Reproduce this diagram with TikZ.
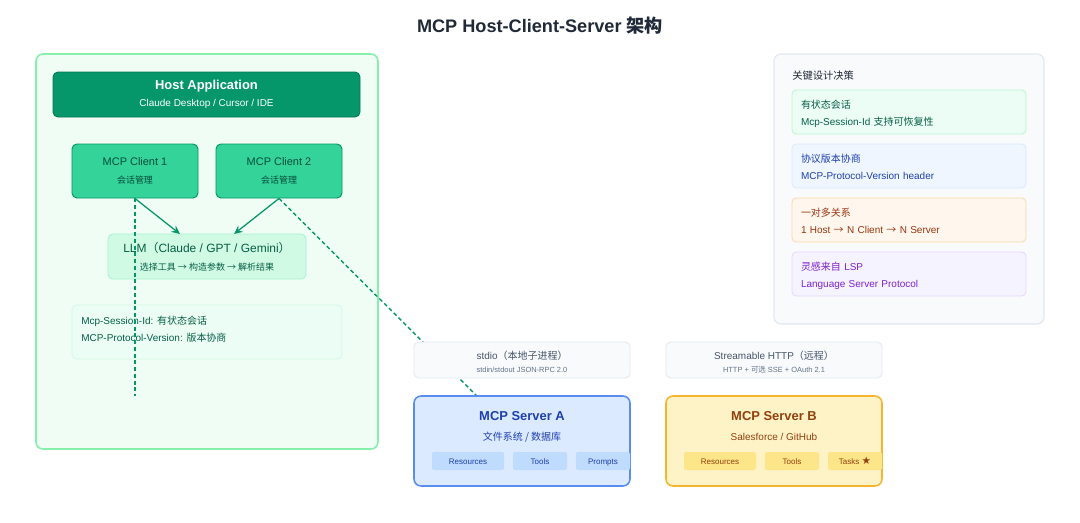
\documentclass[tikz,border=0pt]{standalone}
\usepackage{fontspec}
\setmainfont{Liberation Sans}
\newfontfamily\cjk{Noto Sans CJK SC}
\newfontfamily\symfont{DejaVu Sans}
\usepackage{tikz}
\usetikzlibrary{arrows.meta}
\usepackage{xcolor}

\definecolor{titlegray}{HTML}{1F2937}
\definecolor{hostbg}{HTML}{F0FDF4}
\definecolor{hostline}{HTML}{86EFAC}
\definecolor{appgreen}{HTML}{059669}
\definecolor{appline}{HTML}{047857}
\definecolor{clientfill}{HTML}{34D399}
\definecolor{deepgreen}{HTML}{064E3B}
\definecolor{llmfill}{HTML}{D1FAE5}
\definecolor{llmline}{HTML}{A7F3D0}
\definecolor{textgreen}{HTML}{065F46}
\definecolor{sessfill}{HTML}{ECFDF5}
\definecolor{sessline}{HTML}{D1FAE5}
\definecolor{slatefill}{HTML}{F8FAFC}
\definecolor{slateline}{HTML}{E2E8F0}
\definecolor{slatetext}{HTML}{475569}
\definecolor{slatesub}{HTML}{64748B}
\definecolor{blueFill}{HTML}{DBEAFE}
\definecolor{blueLine}{HTML}{5B8DEF}
\definecolor{bluePill}{HTML}{BFDBFE}
\definecolor{blueText}{HTML}{1E40AF}
\definecolor{amberFill}{HTML}{FEF3C7}
\definecolor{amberLine}{HTML}{F5B52E}
\definecolor{amberPill}{HTML}{FDE68A}
\definecolor{amberText}{HTML}{92400E}
\definecolor{cardGreen}{HTML}{ECFDF5}
\definecolor{cardGreenLine}{HTML}{BBF7D0}
\definecolor{cardBlue}{HTML}{EFF6FF}
\definecolor{cardBlueLine}{HTML}{DBEAFE}
\definecolor{cardOrange}{HTML}{FFF7ED}
\definecolor{cardOrangeLine}{HTML}{FED7AA}
\definecolor{cardOrangeText}{HTML}{9A3412}
\definecolor{cardPurple}{HTML}{F5F3FF}
\definecolor{cardPurpleLine}{HTML}{E9D5FF}
\definecolor{cardPurpleText}{HTML}{7E22CE}

\begin{document}
\begin{tikzpicture}[x=0.025cm, y=-0.025cm]

    % --- Global Settings ---
    \tikzset{
        box/.style 2 args={minimum width=#1*0.025cm, minimum height=#2*0.025cm,
            rounded corners=3.5pt, inner sep=0pt, align=center},
        clientbox/.style={box={126}{54}, fill=clientfill, draw=appgreen, line width=0.7pt,
            text=deepgreen, font=\fontsize{7.8pt}{11pt}\selectfont},
        transbox/.style={box={216}{36}, fill=slatefill, draw=slateline, line width=0.6pt},
        translabel/.style={text=slatetext, inner sep=0pt, font=\fontsize{7.1pt}{9pt}\selectfont},
        transsub/.style={text=slatesub, inner sep=0pt, font=\fontsize{5.3pt}{7pt}\selectfont},
        pill/.style={minimum height=18*0.025cm, inner sep=0pt, rounded corners=1.5pt,
            text height=5.8pt, text depth=0.4pt, font=\fontsize{5.7pt}{7pt}\selectfont},
        card/.style={minimum width=234*0.025cm, minimum height=44*0.025cm, text width=216*0.025cm,
            inner xsep=9*0.025cm, inner ysep=0pt, rounded corners=3pt, align=left, line width=0.6pt,
            text depth=10.8pt, font=\fontsize{7.1pt}{12pt}\selectfont},
        flowarrow/.style={-{Stealth[length=6pt, width=5.5pt]}, line width=0.9pt, appgreen},
        flowdash/.style={line width=1pt, appgreen, dash pattern=on 2.8pt off 2pt}
    }

    % --- Canvas ---
    \fill[white] (0,0) rectangle (1080,522);
    \useasboundingbox (0,0) rectangle (1080,522);

    \node[font=\fontsize{12.9pt}{15pt}\selectfont\bfseries, text=titlegray] (title) at (540,26)
        {MCP Host-Client-Server {\cjk 架构}};

    % --- Host side ---
    \node[box={342}{395}, fill=hostbg, draw=hostline, line width=1.1pt, rounded corners=5pt] (host) at (207,251.5) {};

    \node[box={307}{45}, fill=appgreen, draw=appline, line width=0.6pt, text=white] (hostapp) at (206.5,94.5)
        {{\fontsize{9.2pt}{11pt}\selectfont\bfseries Host Application}\\[0.5pt]
         {\fontsize{7.1pt}{9pt}\selectfont Claude Desktop / Cursor / IDE}};

    \node[clientbox] (client1) at (135,171)
        {MCP Client 1\\[2pt] {\fontsize{6.4pt}{8pt}\selectfont\cjk 会话管理}};
    \node[clientbox] (client2) at (279,171)
        {MCP Client 2\\[2pt] {\fontsize{6.4pt}{8pt}\selectfont\cjk 会话管理}};

    \node[box={198}{45}, fill=llmfill, draw=llmline, line width=0.6pt, text=textgreen] (llm) at (207,256.5)
        {{\fontsize{8.5pt}{10pt}\selectfont LLM{\cjk （}Claude / GPT / Gemini{\cjk ）}}\\[1pt]
         {\fontsize{6.4pt}{8pt}\selectfont\cjk 选择工具 → 构造参数 → 解析结果}};

    \node[box={270}{54}, fill=sessfill, draw=sessline, line width=0.6pt] (sessbox) at (207,332) {};
    \node[anchor=north west, align=left, inner sep=0pt, text=textgreen,
        font=\fontsize{7.1pt}{12pt}\selectfont] (sesstext) at (81,316)
        {Mcp-Session-Id: {\cjk 有状态会话}\\
         MCP-Protocol-Version: {\cjk 版本协商}};

    \coordinate (llmin1) at (180,234);
    \coordinate (llmin2) at (234,234);
    \coordinate (dashend) at (135,396);
    \coordinate (srvAin) at (477,396);

    \draw[flowarrow] (client1.south) -- (llmin1);
    \draw[flowarrow] (client2.south) -- (llmin2);

    % dashed link to server A runs under the stdio box
    \draw[flowdash] (client2.south) -- (srvAin);

    % --- Transports ---
    \node[transbox] (stdio) at (522,360) {};
    \node[translabel] (stdiotitle) at (522,356) {stdio{\cjk （本地子进程）}};
    \node[transsub] (stdiosub) at (522,370) {stdin/stdout JSON-RPC 2.0};
    \node[transbox] (http) at (774,360) {};
    \node[translabel] (httptitle) at (774,356) {Streamable HTTP{\cjk （远程）}};
    \node[transsub] (httpsub) at (774,370) {HTTP + {\cjk 可选} SSE + OAuth 2.1};

    % --- Server A ---
    \node[box={216}{90}, fill=blueFill, draw=blueLine, line width=1.1pt, rounded corners=5pt] (srvA) at (522,441) {};
    \node[text=blueText, font=\fontsize{9.2pt}{11pt}\selectfont\bfseries] (srvAtitle) at (522,416) {MCP Server A};
    \node[text=blueText, font=\fontsize{7.1pt}{9pt}\selectfont\cjk] (srvAsub) at (522,437) {文件系统 / 数据库};
    \node[pill, fill=bluePill, text=blueText, minimum width=72*0.025cm] (resA) at (468,461) {Resources};
    \node[pill, fill=bluePill, text=blueText, minimum width=54*0.025cm] (toolA) at (540,461) {Tools};
    \node[pill, fill=bluePill, text=blueText, minimum width=54*0.025cm] (promptA) at (603,461) {Prompts};

    % --- Server B ---
    \node[box={216}{90}, fill=amberFill, draw=amberLine, line width=1.1pt, rounded corners=5pt] (srvB) at (774,441) {};
    \node[text=amberText, font=\fontsize{9.2pt}{11pt}\selectfont\bfseries] (srvBtitle) at (774,416) {MCP Server B};
    \node[text=amberText, font=\fontsize{7.1pt}{9pt}\selectfont] (srvBsub) at (774,437) {Salesforce / GitHub};
    \node[pill, fill=amberPill, text=amberText, minimum width=72*0.025cm] (resB) at (720,461) {Resources};
    \node[pill, fill=amberPill, text=amberText, minimum width=54*0.025cm] (toolB) at (792,461) {Tools};
    \node[pill, fill=amberPill, text=amberText, minimum width=54*0.025cm] (taskB) at (855,461)
        {Tasks {\symfont\fontsize{7.5pt}{7pt}\selectfont ★}};

    % dashed line from client 1 sits on top
    \draw[flowdash] (client1.south) -- (dashend);

    % --- Key design decisions ---
    \node[box={270}{270}, fill=slatefill, draw=slateline, line width=0.8pt, rounded corners=5pt] (panel) at (909,189) {};
    \node[anchor=west, inner sep=0pt, text=titlegray, font=\fontsize{7.3pt}{9pt}\selectfont\cjk] (panelhead) at (792,75.5) {关键设计决策};

    \node[card, fill=cardGreen, draw=cardGreenLine, text=textgreen] (card1) at (909,112)
        {{\cjk 有状态会话}\\ Mcp-Session-Id {\cjk 支持可恢复性}};
    \node[card, fill=cardBlue, draw=cardBlueLine, text=blueText] (card2) at (909,166)
        {{\cjk 协议版本协商}\\ MCP-Protocol-Version header};
    \node[card, fill=cardOrange, draw=cardOrangeLine, text=cardOrangeText] (card3) at (909,220)
        {{\cjk 一对多关系}\\ 1 Host {\cjk →} N Client {\cjk →} N Server};
    \node[card, fill=cardPurple, draw=cardPurpleLine, text=cardPurpleText] (card4) at (909,274)
        {{\cjk 灵感来自} LSP\\ Language Server Protocol};

\end{tikzpicture}
\end{document}
